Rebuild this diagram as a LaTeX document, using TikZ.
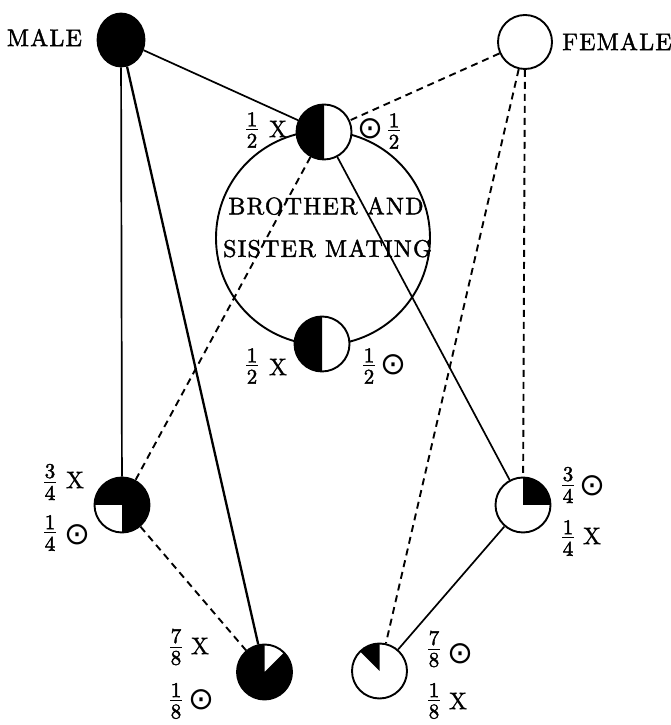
\documentclass[tikz,border=0pt]{standalone}
\usepackage{fontspec}
\newfontfamily\symfont{DejaVu Sans}
\newfontfamily\lettering[LetterSpace=5,FakeBold=1.6]{lmroman10-regular.otf}
\newfontfamily\digits[FakeBold=2]{lmroman10-regular.otf}
\newfontfamily\crossfont[FakeBold=0.8]{lmroman10-regular.otf}
\usetikzlibrary{shapes.geometric}

% stacked fraction built from text digits
\newcommand\fr[2]{\vbox{\offinterlineskip\halign{\hfil##\hfil\cr
  #1\cr\noalign{\kern3.2pt}\rule{0.55em}{1pt}\cr\noalign{\kern3.2pt}#2\cr}}}

\tikzset{
  cell/.style={circle, draw, line width=1.9pt, fill=white, inner sep=0pt, minimum size=55pt},
  pie/.style 2 args={path picture={\fill[black] (path picture bounding box.center)
      -- ++(#1:40pt) arc[start angle=#1, end angle=#2, radius=40pt] -- cycle;}},
  link/.style={line width=1.7pt},
  heavylink/.style={line width=2.3pt},
  dlink/.style={line width=1.9pt, dash pattern=on 7pt off 5pt},
  caps/.style={font=\lettering\fontsize{24}{28}\selectfont, inner sep=0pt},
  frac/.style={font=\digits\fontsize{21}{23}\selectfont, inner sep=0pt},
  cross/.style={font=\crossfont\fontsize{24}{26}\selectfont, inner sep=0pt},
  sun/.style={font=\symfont\fontsize{31}{33}\selectfont, inner sep=0pt},
}

\begin{document}
\begin{tikzpicture}[x=1pt,y=1pt]
\useasboundingbox (0,0) rectangle (671,725);

% parents
\node[ellipse, draw, line width=1.8pt, fill=black, inner sep=0pt,
      minimum width=47pt, minimum height=53pt] (male) at (121,685) {};
\node[cell, minimum size=54pt] (female) at (525,683) {};
\node[caps] (maletxt) at (44.5,687.5) {MALE};
\node[caps] (femaletxt) at (617,683.5) {FEMALE};

% brother and sister mating
\node[circle, draw, line width=1.9pt, inner sep=0pt, minimum size=214pt] (ring) at (323,487) {};
\node[cell, pie={90}{270}] (sib1) at (324,593) {};
\node[cell, pie={90}{270}] (sib2) at (322,381) {};
\node[caps] (bsa) at (326,519) {BROTHER AND};
\node[caps] (bsb) at (327.5,476.5) {SISTER MATING};

% offspring generations
\node[cell, pie={-90}{180}] (lthree) at (122,220) {};
\node[cell, pie={0}{90}] (rthree) at (523,220) {};
\node[cell, pie={90}{405}] (lseven) at (264.5,53) {};
\node[cell, pie={90}{135}] (rseven) at (379.5,54) {};

% connectors
\draw[link] (male) -- (sib1);
\draw[link] (male) -- (lthree);
\draw[heavylink] (male) -- (lseven);
\draw[link] (sib1) -- (rthree);
\draw[link] (rthree) -- (rseven);
\draw[dlink] (female) -- (sib1);
\draw[dlink] (female) -- (rthree);
\draw[dlink] (female) -- (rseven);
\draw[dlink] (sib1) -- (lthree);
\draw[dlink] (lthree) -- (lseven);

% proportions
\node[frac] (f1) at (252,595) {\fr{1}{2}};
\node[cross] (x1) at (278,596) {X};
\node[sun] (s1) at (370,596) {⊙};
\node[frac] (f2) at (394,594) {\fr{1}{2}};

\node[frac] (f3) at (252,359) {\fr{1}{2}};
\node[cross] (x3) at (278,358) {X};
\node[frac] (f4) at (369,359) {\fr{1}{2}};
\node[sun] (s4) at (393,360) {⊙};

\node[frac] (f5) at (50,243) {\fr{3}{4}};
\node[cross] (x5) at (75,245) {X};
\node[frac] (f6) at (50,192) {\fr{1}{4}};
\node[sun] (s6) at (77,190) {⊙};

\node[frac] (f7) at (568,240) {\fr{3}{4}};
\node[sun] (s7) at (592,239) {⊙};
\node[frac] (f8) at (568,187) {\fr{1}{4}};
\node[cross] (x8) at (592,189) {X};

\node[frac] (f9) at (176,78) {\fr{7}{8}};
\node[cross] (x9) at (200,79) {X};
\node[frac] (f10) at (176,24) {\fr{1}{8}};
\node[sun] (s10) at (201,25) {⊙};

\node[frac] (f11) at (434,76) {\fr{7}{8}};
\node[sun] (s11) at (460,71) {⊙};
\node[frac] (f12) at (434,24) {\fr{1}{8}};
\node[cross] (x12) at (458,24) {X};
\end{tikzpicture}
\end{document}
